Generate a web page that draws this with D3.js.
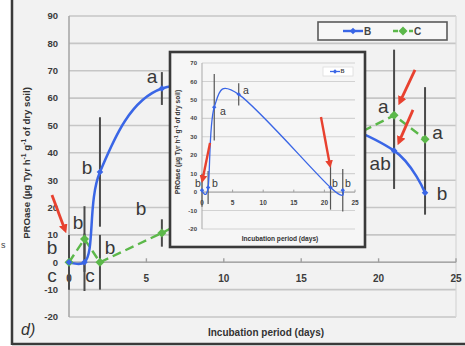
<!DOCTYPE html>
<html>
<head>
<meta charset="utf-8">
<script src="https://cdn.jsdelivr.net/npm/d3@7/dist/d3.min.js"></script>
<style>
  html, body { margin: 0; padding: 0; background: #ffffff; }
  svg { display: block; font-family: "Liberation Sans", Arial, sans-serif; }
</style>
</head>
<body>
<svg id="chart" width="465" height="346"></svg>
<script>
// Sampling days and PROase activity per treatment
const days = [0, 1, 2, 6, 21, 23];
const seriesB = [0, 0, 33, 63.5, 40.8, 25.4];
const errB = [10, 10.5, 20, 6, 14, 8];
const seriesC = [0, 8.5, 0, 10.7, 53.7, 45];
const errC = [9, 12, 10, 5, 24, 19];

// Inset: treatment B only
const insetB = [1, 2.5, 46, 53, 2.5, 1];
const insetErrB = [9, 9, 18, 6, 12, 11.5];

// Tick values
const xTicks = [0, 5, 10, 15, 20, 25];
const yTicks = [-20, -10, 0, 10, 20, 30, 40, 50, 60, 70, 80, 90];
const insetYTicks = [-20, -10, 0, 10, 20, 30, 40, 50, 60, 70];

// Significance letters, placed in data units (day, activity)
const mainLetters = [
  ["a", 5.36, 68.1], ["b", 1.16, 34.6], ["b", 4.65, 19.8], ["b", 0.58, 14.7],
  ["b", -1.1, 5.6], ["c", -1.1, -4.6], ["c", 1.36, -4.6], ["b", 2.65, 5.6],
  ["a", 20.3, 56.8], ["ab", 20.1, 36.3], ["a", 23.8, 47.3], ["b", 24.1, 25.3]
];
const insetLetters = [
  ["a", 3.43, 44.0], ["a", 7.19, 55.4], ["b", -0.65, 4.9], ["b", 2.12, 4.9],
  ["b", 21.7, 4.9], ["b", 23.86, 4.9]
];
// Highlight arrows: [fromDay, fromValue, toDay, toValue]
const mainArrows = [
  [-1.1, 24.6, -0.26, 11.8],
  [22.35, 70.3, 21.38, 58.6],
  [22.22, 55.7, 21.32, 44.0]
];
const insetArrows = [
  [1.31, 26.7, 0.08, 6.6],
  [19.44, 40.7, 20.9, 14.7]
];

const blue = "#3a66e6", green = "#5cb84a", red = "#e8412f";
const svg = d3.select("#chart");

svg.append("rect").attr("x", 12).attr("y", 0).attr("width", 453).attr("height", 344).attr("fill", "#f2f2f2");

const x = d3.scaleLinear().domain([0, 25]).range([69, 456]);
const y = d3.scaleLinear().domain([-20, 90]).range([317, 16]);

// grid
const g = svg.append("g");
g.selectAll("line.grid").data(yTicks).join("line")
  .attr("x1", x(0)).attr("x2", x(25))
  .attr("y1", d => y(d)).attr("y2", d => y(d))
  .attr("stroke", "#c6c6c6").attr("stroke-width", 1.6);
g.append("line").attr("x1", x(25)).attr("x2", x(25)).attr("y1", y(90)).attr("y2", y(-20))
  .attr("stroke", "#d6d6d6").attr("stroke-width", 1.2);
g.append("line").attr("x1", x(0)).attr("x2", x(0)).attr("y1", y(90)).attr("y2", y(-20))
  .attr("stroke", "#a8a8a8").attr("stroke-width", 1.6);
// x axis along zero
g.append("line").attr("x1", x(0)).attr("x2", x(25)).attr("y1", y(0)).attr("y2", y(0))
  .attr("stroke", "#a8a8a8").attr("stroke-width", 1.6);
g.selectAll("line.xt").data(xTicks).join("line")
  .attr("x1", d => x(d)).attr("x2", d => x(d)).attr("y1", y(0) - 4).attr("y2", y(0))
  .attr("stroke", "#a0a0a0").attr("stroke-width", 1.4);

g.selectAll("text.yt").data(yTicks).join("text")
  .attr("x", 58).attr("y", d => y(d)).attr("dy", "0.35em")
  .attr("text-anchor", "end").attr("font-size", 9.5).attr("font-weight", "bold")
  .attr("fill", "#3c3c3c").text(d => d);
g.selectAll("text.xt").data(xTicks).join("text")
  .attr("x", d => x(d)).attr("y", y(0) + 16.5).attr("dy", "0.35em")
  .attr("text-anchor", "middle").attr("font-size", 10).attr("font-weight", "bold")
  .attr("fill", "#3c3c3c").text(d => d);

function yLabel(sel, cx, cy, size) {
  const t = sel.append("text")
    .attr("transform", `translate(${cx},${cy}) rotate(-90)`)
    .attr("text-anchor", "middle").attr("font-size", size).attr("font-weight", "bold")
    .attr("fill", "#333");
  const up = -size * 0.38;
  t.append("tspan").text("PROase (µg Tyr h");
  t.append("tspan").attr("dy", up).attr("font-size", size * 0.7).text("-1");
  t.append("tspan").attr("dy", -up).text(" g");
  t.append("tspan").attr("dy", up).attr("font-size", size * 0.7).text("-1");
  t.append("tspan").attr("dy", -up).text(" of dry soil)");
}
yLabel(svg, 30, 163, 9.6);
svg.append("text").attr("x", 266).attr("y", 336).attr("text-anchor", "middle")
  .attr("font-size", 10).attr("font-weight", "bold").attr("fill", "#333")
  .text("Incubation period (days)");

svg.append("text").attr("x", 21).attr("y", 335).attr("font-size", 16).attr("font-style", "italic")
  .attr("fill", "#333").text("d)");
svg.append("text").attr("x", 1).attr("y", 248).attr("font-size", 9).attr("fill", "#444").text("s");

// outer frame
svg.append("line").attr("x1", 12).attr("x2", 12).attr("y1", 0).attr("y2", 345)
  .attr("stroke", "#3a3a3a").attr("stroke-width", 2.5);
svg.append("line").attr("x1", 12).attr("x2", 465).attr("y1", 344).attr("y2", 344)
  .attr("stroke", "#3a3a3a").attr("stroke-width", 2.5);

// arrow head
const defs = svg.append("defs");
defs.append("marker").attr("id", "head").attr("viewBox", "0 0 10 10")
  .attr("refX", 6).attr("refY", 5).attr("markerWidth", 3.2).attr("markerHeight", 3.2)
  .attr("orient", "auto").attr("markerUnits", "strokeWidth")
  .append("path").attr("d", "M0,0 L10,5 L0,10 Z").attr("fill", red);

const diamond = s => `M0,${-s}L${s},0L0,${s}L${-s},0Z`;

// error bars
const eb = svg.append("g").attr("stroke", "#4a4a4a").attr("stroke-width", 2);
days.forEach((d, i) => {
  eb.append("line").attr("x1", x(d)).attr("x2", x(d))
    .attr("y1", y(seriesB[i] + errB[i])).attr("y2", y(seriesB[i] - errB[i]));
  eb.append("line").attr("x1", x(d)).attr("x2", x(d))
    .attr("y1", y(seriesC[i] + errC[i])).attr("y2", y(seriesC[i] - errC[i]));
});

const ptsB = days.map((d, i) => [d, seriesB[i]]);
const ptsC = days.map((d, i) => [d, seriesC[i]]);

svg.append("path").datum(ptsC)
  .attr("d", d3.line().x(p => x(p[0])).y(p => y(p[1])))
  .attr("fill", "none").attr("stroke", green).attr("stroke-width", 2.4)
  .attr("stroke-dasharray", "9,5");
svg.append("path").datum(ptsB)
  .attr("d", d3.line().curve(d3.curveCatmullRom.alpha(0.5)).x(p => x(p[0])).y(p => y(p[1])))
  .attr("fill", "none").attr("stroke", blue).attr("stroke-width", 2.5);

svg.selectAll("path.mc").data(ptsC).join("path")
  .attr("d", diamond(4.5)).attr("transform", p => `translate(${x(p[0])},${y(p[1])})`)
  .attr("fill", green);
svg.selectAll("path.mb").data(ptsB).join("path")
  .attr("d", diamond(3.3)).attr("transform", p => `translate(${x(p[0])},${y(p[1])})`)
  .attr("fill", blue);

svg.selectAll("text.ml").data(mainLetters).join("text")
  .attr("x", l => x(l[1])).attr("y", l => y(l[2])).attr("dy", "0.35em")
  .attr("text-anchor", "middle").attr("font-size", 19).attr("fill", "#383838")
  .text(l => l[0]);

svg.selectAll("line.ma").data(mainArrows).join("line")
  .attr("x1", a => x(a[0])).attr("y1", a => y(a[1]))
  .attr("x2", a => x(a[2])).attr("y2", a => y(a[3]))
  .attr("stroke", red).attr("stroke-width", 2.8).attr("marker-end", "url(#head)");

// legend
const lg = svg.append("g");
lg.append("rect").attr("x", 318).attr("y", 22).attr("width", 129).attr("height", 18)
  .attr("fill", "#f7f7f7").attr("stroke", "#5a5a5a").attr("stroke-width", 1.6);
[["B", blue, 343, 3.3, null], ["C", green, 393, 4.5, "8,5"]].forEach(([name, col, lx, ms, dash]) => {
  lg.append("line").attr("x1", lx).attr("x2", lx + 20).attr("y1", 31).attr("y2", 31)
    .attr("stroke", col).attr("stroke-width", 2.4).attr("stroke-dasharray", dash ? "5,3" : null);
  lg.append("path").attr("d", diamond(ms)).attr("transform", `translate(${lx + 10},31)`).attr("fill", col);
  lg.append("text").attr("x", lx + 21).attr("y", 31).attr("dy", "0.35em")
    .attr("font-size", 10).attr("font-weight", "bold").attr("fill", "#444").text(name);
});

// ---- inset ----
const ix = d3.scaleLinear().domain([0, 25]).range([202, 355]);
const iy = d3.scaleLinear().domain([-20, 70]).range([229, 63]);
const ins = svg.append("g");
ins.append("rect").attr("x", 170).attr("y", 52).attr("width", 195).attr("height", 195)
  .attr("fill", "#f6f6f6").attr("stroke", "#3a3a3a").attr("stroke-width", 2.6);
ins.selectAll("line.ig").data(insetYTicks).join("line")
  .attr("x1", ix(0)).attr("x2", ix(25)).attr("y1", d => iy(d)).attr("y2", d => iy(d))
  .attr("stroke", "#d2d2d2").attr("stroke-width", 1.1);
ins.append("line").attr("x1", ix(0)).attr("x2", ix(0)).attr("y1", iy(70)).attr("y2", iy(-20))
  .attr("stroke", "#b0b0b0").attr("stroke-width", 1.1);
ins.append("line").attr("x1", ix(0)).attr("x2", ix(25)).attr("y1", iy(0)).attr("y2", iy(0))
  .attr("stroke", "#b0b0b0").attr("stroke-width", 1.1);
ins.selectAll("line.ixt").data(xTicks).join("line")
  .attr("x1", d => ix(d)).attr("x2", d => ix(d)).attr("y1", iy(0) - 2.5).attr("y2", iy(0))
  .attr("stroke", "#a0a0a0");
ins.selectAll("text.iyt").data(insetYTicks).join("text")
  .attr("x", 197).attr("y", d => iy(d)).attr("dy", "0.35em").attr("text-anchor", "end")
  .attr("font-size", 6).attr("font-weight", "bold").attr("fill", "#444").text(d => d);
ins.selectAll("text.ixt").data(xTicks).join("text")
  .attr("x", d => ix(d)).attr("y", iy(0) + 11).attr("dy", "0.35em").attr("text-anchor", "middle")
  .attr("font-size", 6.5).attr("font-weight", "bold").attr("fill", "#444").text(d => d);
yLabel(ins, 180, 142, 6.6);
ins.append("text").attr("x", 280).attr("y", 241).attr("text-anchor", "middle")
  .attr("font-size", 6.6).attr("font-weight", "bold").attr("fill", "#333")
  .text("Incubation period (days)");

const ieb = ins.append("g").attr("stroke", "#555").attr("stroke-width", 1.2);
days.forEach((d, i) => {
  ieb.append("line").attr("x1", ix(d)).attr("x2", ix(d))
    .attr("y1", iy(insetB[i] + insetErrB[i])).attr("y2", iy(insetB[i] - insetErrB[i]));
});
const ptsI = days.map((d, i) => [d, insetB[i]]);
ins.append("path").datum(ptsI)
  .attr("d", d3.line().curve(d3.curveCardinal.tension(0)).x(p => ix(p[0])).y(p => iy(p[1])))
  .attr("fill", "none").attr("stroke", blue).attr("stroke-width", 1.3);
ins.selectAll("path.im").data(ptsI).join("path")
  .attr("d", diamond(2.2)).attr("transform", p => `translate(${ix(p[0])},${iy(p[1])})`)
  .attr("fill", blue);
ins.selectAll("text.il").data(insetLetters).join("text")
  .attr("x", l => ix(l[1])).attr("y", l => iy(l[2])).attr("dy", "0.35em")
  .attr("text-anchor", "middle").attr("font-size", 10.5).attr("fill", "#383838")
  .text(l => l[0]);
ins.selectAll("line.ia").data(insetArrows).join("line")
  .attr("x1", a => ix(a[0])).attr("y1", a => iy(a[1]))
  .attr("x2", a => ix(a[2])).attr("y2", a => iy(a[3]))
  .attr("stroke", red).attr("stroke-width", 2.4).attr("marker-end", "url(#head)");
// inset legend
ins.append("rect").attr("x", 323).attr("y", 67).attr("width", 30).attr("height", 9)
  .attr("fill", "#ffffff").attr("stroke", "#dddddd").attr("stroke-width", 0.8);
ins.append("line").attr("x1", 330).attr("x2", 340).attr("y1", 71.5).attr("y2", 71.5)
  .attr("stroke", blue).attr("stroke-width", 1.3);
ins.append("path").attr("d", diamond(2.2)).attr("transform", "translate(335,71.5)").attr("fill", blue);
ins.append("text").attr("x", 340.5).attr("y", 71.5).attr("dy", "0.35em")
  .attr("font-size", 5.5).attr("font-weight", "bold").attr("fill", "#444").text("B");
</script>
</body>
</html>
